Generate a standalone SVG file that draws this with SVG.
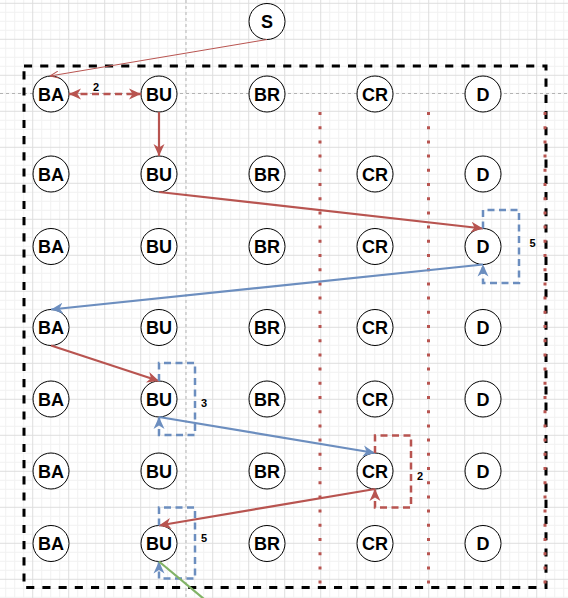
<svg xmlns="http://www.w3.org/2000/svg" width="568" height="598" viewBox="0 0 568 598">
<defs>
  <pattern id="grid" patternUnits="userSpaceOnUse" x="32.2" y="2.8" width="36" height="36">
    <path d="M9.5 0V36M18.5 0V36M27.5 0V36M0 9.5H36M0 18.5H36M0 27.5H36" stroke="#f1f1f1" stroke-width="1" fill="none"/>
    <path d="M0.5 0V36M0 0.5H36" stroke="#dedede" stroke-width="1" fill="none"/>
  </pattern>
  <marker id="aRed" markerUnits="userSpaceOnUse" viewBox="0 0 12 12" refX="12" refY="6" markerWidth="12" markerHeight="12" orient="auto-start-reverse">
    <path d="M0,0.5 L12,6 L0,11.5 L3.5,6 Z" fill="#b85450"/>
  </marker>
  <marker id="aBlue" markerUnits="userSpaceOnUse" viewBox="0 0 12 12" refX="12" refY="6" markerWidth="12" markerHeight="12" orient="auto-start-reverse">
    <path d="M0,0.5 L12,6 L0,11.5 L3.5,6 Z" fill="#6c8ebf"/>
  </marker>
  <marker id="aOpen" markerUnits="userSpaceOnUse" viewBox="0 0 10 8" refX="9.5" refY="4" markerWidth="10" markerHeight="8" orient="auto">
    <path d="M1,0.5 L9.5,4 L1,7.5" fill="none" stroke="#b85450" stroke-width="1"/>
  </marker>
</defs>
<style>
  .node circle { fill:#ffffff; stroke:#000000; stroke-width:1; }
  .node text { font-family:"Liberation Sans", Arial, sans-serif; font-weight:bold; font-size:18px; text-anchor:middle; fill:#000000; }
  .lbl { font-family:"Liberation Sans", Arial, sans-serif; font-weight:bold; font-size:11px; text-anchor:middle; fill:#000000; }
  .guide { stroke:#b3b3b3; stroke-width:1; stroke-dasharray:3 3; fill:none; }
  .dot { stroke:#b85450; stroke-width:3; stroke-dasharray:3 11.2; fill:none; }
  .red { stroke:#b85450; stroke-width:2.2; fill:none; }
  .blue { stroke:#6c8ebf; stroke-width:2.2; fill:none; }
  .dash { stroke-width:2.5; stroke-dasharray:7 4.5; }
</style>
<rect width="568" height="598" fill="#ffffff"/>
<rect width="568" height="598" fill="url(#grid)"/>
<g id="guides">
  <line class="guide" x1="0" y1="93.5" x2="568" y2="93.5"/>
  <line class="guide" x1="186" y1="0" x2="186" y2="598"/>
</g>
<g id="container">
  <rect x="24" y="66" width="522" height="521.5" fill="none" stroke="#000000" stroke-width="3" stroke-dasharray="8.1 8.1"/>
  <line class="dot" x1="320" y1="112" x2="320" y2="592"/>
  <line class="dot" x1="428.5" y1="112" x2="428.5" y2="592"/>
  <line class="dot" x1="545" y1="112" x2="545" y2="592"/>
</g>
<g id="node-S" class="node"><circle cx="267" cy="21.5" r="18"/><text x="267" y="28">S</text></g>
<g id="row1">
  <g id="n1-BA" class="node"><circle cx="51" cy="94" r="18"/><text x="51" y="100.5">BA</text></g>
  <g id="n1-BU" class="node"><circle cx="159" cy="94" r="18"/><text x="159" y="100.5">BU</text></g>
  <g id="n1-BR" class="node"><circle cx="267" cy="94" r="18"/><text x="267" y="100.5">BR</text></g>
  <g id="n1-CR" class="node"><circle cx="375" cy="94" r="18"/><text x="375" y="100.5">CR</text></g>
  <g id="n1-D" class="node"><circle cx="483" cy="94" r="18"/><text x="483" y="100.5">D</text></g>
</g>
<g id="row2">
  <g id="n2-BA" class="node"><circle cx="51" cy="174" r="18"/><text x="51" y="180.5">BA</text></g>
  <g id="n2-BU" class="node"><circle cx="159" cy="174" r="18"/><text x="159" y="180.5">BU</text></g>
  <g id="n2-BR" class="node"><circle cx="267" cy="174" r="18"/><text x="267" y="180.5">BR</text></g>
  <g id="n2-CR" class="node"><circle cx="375" cy="174" r="18"/><text x="375" y="180.5">CR</text></g>
  <g id="n2-D" class="node"><circle cx="483" cy="174" r="18"/><text x="483" y="180.5">D</text></g>
</g>
<g id="row3">
  <g id="n3-BA" class="node"><circle cx="51" cy="246.5" r="18"/><text x="51" y="253">BA</text></g>
  <g id="n3-BU" class="node"><circle cx="159" cy="246.5" r="18"/><text x="159" y="253">BU</text></g>
  <g id="n3-BR" class="node"><circle cx="267" cy="246.5" r="18"/><text x="267" y="253">BR</text></g>
  <g id="n3-CR" class="node"><circle cx="375" cy="246.5" r="18"/><text x="375" y="253">CR</text></g>
  <g id="n3-D" class="node"><circle cx="483" cy="246.5" r="18"/><text x="483" y="253">D</text></g>
</g>
<g id="row4">
  <g id="n4-BA" class="node"><circle cx="51" cy="327.5" r="18"/><text x="51" y="334">BA</text></g>
  <g id="n4-BU" class="node"><circle cx="159" cy="327.5" r="18"/><text x="159" y="334">BU</text></g>
  <g id="n4-BR" class="node"><circle cx="267" cy="327.5" r="18"/><text x="267" y="334">BR</text></g>
  <g id="n4-CR" class="node"><circle cx="375" cy="327.5" r="18"/><text x="375" y="334">CR</text></g>
  <g id="n4-D" class="node"><circle cx="483" cy="327.5" r="18"/><text x="483" y="334">D</text></g>
</g>
<g id="row5">
  <g id="n5-BA" class="node"><circle cx="51" cy="399" r="18"/><text x="51" y="405.5">BA</text></g>
  <g id="n5-BU" class="node"><circle cx="159" cy="399" r="18"/><text x="159" y="405.5">BU</text></g>
  <g id="n5-BR" class="node"><circle cx="267" cy="399" r="18"/><text x="267" y="405.5">BR</text></g>
  <g id="n5-CR" class="node"><circle cx="375" cy="399" r="18"/><text x="375" y="405.5">CR</text></g>
  <g id="n5-D" class="node"><circle cx="483" cy="399" r="18"/><text x="483" y="405.5">D</text></g>
</g>
<g id="row6">
  <g id="n6-BA" class="node"><circle cx="51" cy="471" r="18"/><text x="51" y="477.5">BA</text></g>
  <g id="n6-BU" class="node"><circle cx="159" cy="471" r="18"/><text x="159" y="477.5">BU</text></g>
  <g id="n6-BR" class="node"><circle cx="267" cy="471" r="18"/><text x="267" y="477.5">BR</text></g>
  <g id="n6-CR" class="node"><circle cx="375" cy="471" r="18"/><text x="375" y="477.5">CR</text></g>
  <g id="n6-D" class="node"><circle cx="483" cy="471" r="18"/><text x="483" y="477.5">D</text></g>
</g>
<g id="row7">
  <g id="n7-BA" class="node"><circle cx="51" cy="543.5" r="18"/><text x="51" y="550">BA</text></g>
  <g id="n7-BU" class="node"><circle cx="159" cy="543.5" r="18"/><text x="159" y="550">BU</text></g>
  <g id="n7-BR" class="node"><circle cx="267" cy="543.5" r="18"/><text x="267" y="550">BR</text></g>
  <g id="n7-CR" class="node"><circle cx="375" cy="543.5" r="18"/><text x="375" y="550">CR</text></g>
  <g id="n7-D" class="node"><circle cx="483" cy="543.5" r="18"/><text x="483" y="550">D</text></g>
</g>
<g id="connectors">
  <path d="M267,39.5 L50,76" stroke="#b85450" stroke-width="1" fill="none" marker-end="url(#aOpen)"/>
  <path class="red dash" d="M69,94 L141,94" marker-start="url(#aRed)" marker-end="url(#aRed)"/>
  <path class="red" d="M159,112 L159,156" marker-end="url(#aRed)"/>
  <path class="red" d="M159,192 L483,228.5" marker-end="url(#aRed)"/>
  <path class="blue dash" d="M483,228.5 L483,210 L519,210 L519,283 L483,283 L483,264.5" marker-end="url(#aBlue)"/>
  <path class="blue" d="M483,264.5 L51,309.5" marker-end="url(#aBlue)"/>
  <path class="red" d="M51,345.5 L159,381" marker-end="url(#aRed)"/>
  <path class="blue dash" d="M159,381 L159,363 L195,363 L195,435 L159,435 L159,417" marker-end="url(#aBlue)"/>
  <path class="blue" d="M159,417 L375,453" marker-end="url(#aBlue)"/>
  <path class="red dash" d="M375,453 L375,435.5 L411,435.5 L411,507.5 L375,507.5 L375,489" marker-end="url(#aRed)"/>
  <path class="red" d="M375,489 L159,525.5" marker-end="url(#aRed)"/>
  <path class="blue dash" d="M159,525.5 L159,507.5 L195,507.5 L195,578.5 L159,578.5 L159,561.5" marker-end="url(#aBlue)"/>
  <path d="M159,561.5 L210,604" stroke="#82b366" stroke-width="2.2" fill="none"/>
</g>
<g id="labels">
  <text class="lbl" x="96" y="91">2</text>
  <text class="lbl" x="532.5" y="246.5">5</text>
  <text class="lbl" x="204" y="406.5">3</text>
  <text class="lbl" x="420" y="480">2</text>
  <text class="lbl" x="204" y="541.5">5</text>
</g>
</svg>
